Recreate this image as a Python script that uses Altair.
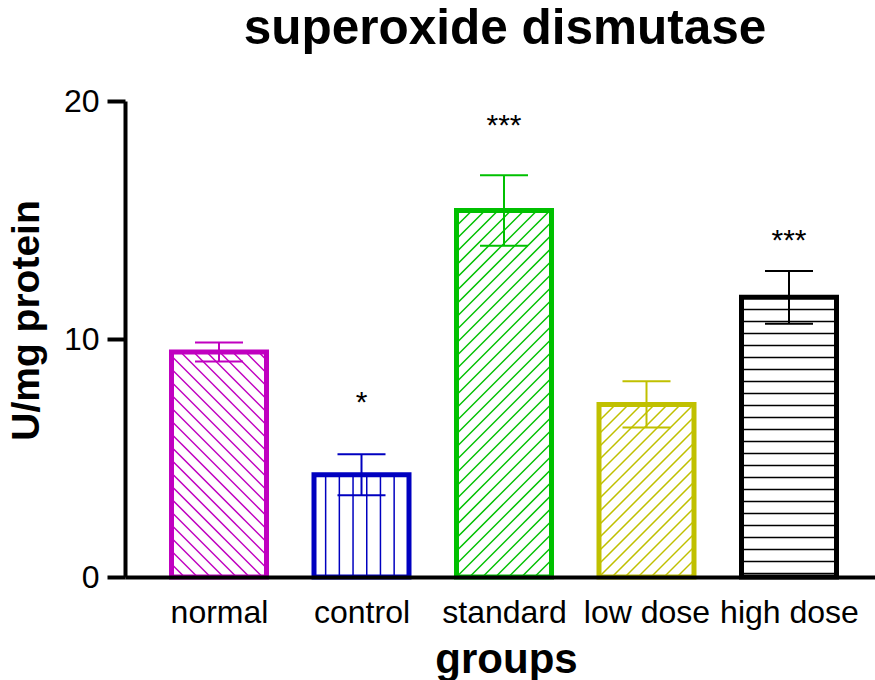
import json
import math
import altair as alt
import pandas as pd

# ---------------- data ----------------
groups = ["normal", "control", "standard", "low dose", "high dose"]
means = [9.45, 4.30, 15.40, 7.25, 11.75]
sems = [0.40, 0.86, 1.48, 0.97, 1.11]
stars = ["", "*", "***", "", "***"]
star_y = [None, 7.5, 19.1, None, 14.3]

# ---------------- styles ----------------
colors = ["#C000C0", "#0000C0", "#00C000", "#C0C000", "#000000"]
hatch_kind = ["down", "vertical", "up", "up", "horizontal"]
hatch_gap = [13.0, 13.7, 13.0, 13.0, 12.0]
FONT = "Liberation Sans"

PLOT_W, PLOT_H = 750, 476
STEP = 142.5            # pixels between group centres
X_LEFT = 94             # pixels from y axis to first centre
Y_MAX = 20
BAR_W = 95.0            # bar width, pixels
CAP_W = 48.0            # error cap width, pixels
PX_Y = PLOT_H / Y_MAX
X_DOMAIN = [-X_LEFT / STEP, (PLOT_W - X_LEFT) / STEP]
BAR_HALF = BAR_W / 2 / STEP
CAP_HALF = CAP_W / 2 / STEP

df = pd.DataFrame({"group": groups, "mean": means, "sem": sems})
df["idx"] = range(len(groups))
df["x1"] = df["idx"] - BAR_HALF
df["x2"] = df["idx"] + BAR_HALF
df["cl"] = df["idx"] - CAP_HALF
df["cr"] = df["idx"] + CAP_HALF
df["lo"] = df["mean"] - df["sem"]
df["hi"] = df["mean"] + df["sem"]

sdf = pd.DataFrame({"group": groups, "star": stars, "sy": star_y, "idx": range(len(groups))})
sdf = sdf[sdf["star"] != ""]

# hatch segments, computed in pixel space inside each bar, then converted to data units
rows = []
for i, (g, m) in enumerate(zip(groups, means)):
    w = BAR_W
    h = m * PX_Y
    s = hatch_gap[i]
    kind = hatch_kind[i]
    segs = []
    if kind == "vertical":
        u = s * 0.85
        while u < w:
            segs.append((u, 0, u, h))
            u += s
    elif kind == "horizontal":
        v = s * 0.3
        while v < h:
            segs.append((0, v, w, v))
            v += s
    elif kind == "up":  # "/"
        k = math.floor(-h / s) + 1
        while k * s < w:
            c = k * s
            ua = max(0.0, c)
            va = ua - c
            ub = min(w, h + c)
            vb = ub - c
            segs.append((ua, va, ub, vb))
            k += 1
    elif kind == "down":  # "\"
        k = 1
        while k * s < w + h:
            c = k * s
            ua = max(0.0, c - h)
            va = c - ua
            ub = min(w, c)
            vb = c - ub
            segs.append((ua, va, ub, vb))
            k += 1
    for ua, va, ub, vb in segs:
        if abs(ub - ua) + abs(vb - va) < 1.5:
            continue
        rows.append({
            "group": g,
            "hx": i - BAR_HALF + ua / STEP,
            "hy": va / PX_Y,
            "hx2": i - BAR_HALF + ub / STEP,
            "hy2": vb / PX_Y,
        })
hdf = pd.DataFrame(rows)

# ---------------- scales / axes ----------------
x_scale = alt.Scale(domain=X_DOMAIN, nice=False, zero=False)
y_scale = alt.Scale(domain=[0, Y_MAX], nice=False, zero=False)
color_scale = alt.Scale(domain=groups, range=colors)

label_expr = json.dumps(groups) + "[datum.value]"

x_axis = alt.Axis(
    values=list(range(len(groups))), labelExpr=label_expr,
    ticks=False, tickSize=0, grid=False,
    domainWidth=4, domainColor="black",
    labelFontSize=32, labelPadding=45, labelBaseline="alphabetic",
    labelColor="black", labelFlush=False, labelOverlap=False,
    title="groups", titleFontSize=42, titleFontWeight="bold", titleColor="black",
    titleX=381, titleY=95, titleBaseline="alphabetic",
    zindex=1,
)
y_axis = alt.Axis(
    values=[0, 10, 20], tickSize=18, tickWidth=4, tickColor="black",
    domainWidth=4, domainColor="black", grid=False,
    labelFontSize=32, labelPadding=8, labelColor="black", labelFlush=False,
    title="U/mg protein", titleFontSize=39, titleFontWeight="bold", titleColor="black",
    titleX=-87, titleY=219, titleBaseline="alphabetic", titleAngle=270,
    zindex=1,
)

def X(field):
    return alt.X(field, type="quantitative", scale=x_scale, axis=x_axis)

def Y(field):
    return alt.Y(field, type="quantitative", scale=y_scale, axis=y_axis)

hatch_layer = alt.Chart(hdf).mark_rule(strokeWidth=1.5).encode(
    x=X("hx"), x2="hx2:Q", y=Y("hy"), y2="hy2:Q",
    color=alt.Color("group:N", scale=color_scale, legend=None),
)

outline_layer = alt.Chart(df).mark_rect(fillOpacity=0, strokeWidth=5, strokeJoin="miter").encode(
    x=X("x1"), x2="x2:Q", y=Y("mean"), y2=alt.datum(0),
    stroke=alt.Stroke("group:N", scale=color_scale, legend=None),
)

err_layer = alt.Chart(df).mark_rule(strokeWidth=2).encode(
    x=X("idx"), y=Y("lo"), y2="hi:Q",
    color=alt.Color("group:N", scale=color_scale, legend=None),
)
cap_hi = alt.Chart(df).mark_rule(strokeWidth=2).encode(
    x=X("cl"), x2="cr:Q", y=Y("hi"),
    color=alt.Color("group:N", scale=color_scale, legend=None),
)
cap_lo = alt.Chart(df).mark_rule(strokeWidth=2).encode(
    x=X("cl"), x2="cr:Q", y=Y("lo"),
    color=alt.Color("group:N", scale=color_scale, legend=None),
)

star_layer = alt.Chart(sdf).mark_text(
    fontSize=30, baseline="alphabetic", dy=13, color="black", font=FONT
).encode(x=X("idx"), y=Y("sy"), text="star:N")

chart = alt.layer(
    hatch_layer, outline_layer, err_layer, cap_hi, cap_lo, star_layer
).properties(
    width=PLOT_W, height=PLOT_H,
    title=alt.TitleParams(
        "superoxide dismutase", fontSize=49.5, fontWeight="bold", font=FONT,
        anchor="middle", frame="group", baseline="alphabetic", offset=-8, dx=5,
        color="black",
    ),
    autosize=alt.AutoSizeParams(type="none"),
    padding={"left": 125, "top": 101, "right": 0, "bottom": 103},
    background="white",
).configure(font=FONT).configure_view(stroke=None).configure_axis(
    labelFont=FONT, titleFont=FONT
)

chart.save("out.html", embed_options={"renderer": "svg", "actions": False})
